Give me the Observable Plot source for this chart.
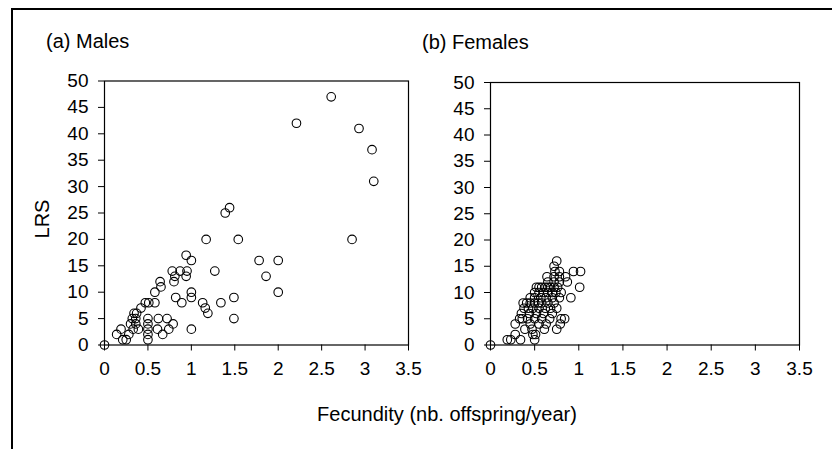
<!DOCTYPE html>
<html>
<head>
<meta charset="utf-8">
<script src="https://cdn.jsdelivr.net/npm/d3@7"></script>
<script src="https://cdn.jsdelivr.net/npm/@observablehq/plot@0.6"></script>
<style>
  html, body { margin: 0; padding: 0; background: white; }
  #wrap { position: relative; width: 832px; height: 449px; overflow: hidden; background: white;
          font-family: "Liberation Sans", Arial, sans-serif; color: black; }
  #border { position: absolute; left: 11px; top: 8px; width: 900px; height: 600px; border: 2px solid black; box-sizing: border-box; }
  .t { position: absolute; font-size: 20px; line-height: 20px; white-space: nowrap; }
  .panel { position: absolute; top: 0; }
</style>
</head>
<body>
<div id="wrap">
  <div id="border"></div>
  <div class="t" style="left:46px; top:31px;">(a) Males</div>
  <div class="t" style="left:422px; top:32px;">(b) Females</div>
  <div class="t" style="left:42px; top:219px; transform: translate(-50%,-50%) rotate(-90deg);">LRS</div>
  <div class="t" style="left:447px; top:404px; transform: translateX(-50%);">Fecundity (nb. offspring/year)</div>
  <div id="left" class="panel" style="left:0px;"></div>
  <div id="right" class="panel" style="left:420px;"></div>
</div>
<script>
// Tick values
const xTicks = [0, 0.5, 1, 1.5, 2, 2.5, 3, 3.5];
const yTicks = [0, 5, 10, 15, 20, 25, 30, 35, 40, 45, 50];

// (a) Males: fecundity (nb. offspring/year) and LRS
const maleFecundity = [0, 0.14, 0.19, 0.21, 0.25, 0.28, 0.30, 0.32, 0.33, 0.34, 0.36, 0.37, 0.39, 0.36,
  0.42, 0.47, 0.51, 0.50, 0.50, 0.50, 0.50, 0.50, 0.58, 0.58, 0.61, 0.62, 0.64, 0.65, 0.67, 0.72,
  0.74, 0.79, 0.78, 0.80, 0.81, 0.82, 0.89, 0.87, 0.94, 0.95, 0.94, 1.00, 1.00, 1.00, 1.00, 1.17,
  1.13, 1.16, 1.19, 1.27, 1.34, 1.39, 1.44, 1.49, 1.49, 1.54, 1.78, 1.86, 2.00, 2.00, 2.21, 2.61,
  2.85, 2.93, 3.08, 3.10];
const maleLRS = [0, 2, 3, 1, 1, 2, 4, 5, 3, 6, 5, 6, 3, 4,
  7, 8, 8, 5, 4, 3, 2, 1, 8, 10, 3, 5, 12, 11, 2, 5,
  3, 4, 14, 12, 13, 9, 8, 14, 17, 14, 13, 16, 10, 9, 3, 20,
  8, 7, 6, 14, 8, 25, 26, 9, 5, 20, 16, 13, 16, 10, 42, 47,
  20, 41, 37, 31];

// (b) Females
const femaleFecundity = [0,
  0.19, 0.23, 0.34, 0.50,
  0.28, 0.48, 0.51,
  0.39, 0.47, 0.61, 0.75,
  0.28, 0.45, 0.55, 0.63, 0.79,
  0.33, 0.36, 0.42, 0.50, 0.58, 0.67, 0.80, 0.84,
  0.35, 0.44, 0.52, 0.60, 0.70,
  0.38, 0.43, 0.48, 0.55, 0.62, 0.68, 0.75,
  0.37, 0.41, 0.45, 0.50, 0.54, 0.58, 0.65, 0.72,
  0.45, 0.50, 0.57, 0.63, 0.70, 0.78, 0.91,
  0.50, 0.55, 0.60, 0.65, 0.70, 0.74, 0.80,
  0.52, 0.55, 0.58, 0.62, 0.65, 0.68, 0.72, 0.76, 1.01,
  0.65, 0.72, 0.78, 0.87,
  0.64, 0.72, 0.78, 0.85,
  0.73, 0.78, 0.94, 1.02,
  0.72,
  0.75];
const femaleLRS = [0,
  1, 1, 1, 1,
  2, 2, 2,
  3, 3, 3, 3,
  4, 4, 4, 4, 4,
  5, 5, 5, 5, 5, 5, 5, 5,
  6, 6, 6, 6, 6,
  7, 7, 7, 7, 7, 7, 7,
  8, 8, 8, 8, 8, 8, 8, 8,
  9, 9, 9, 9, 9, 9, 9,
  10, 10, 10, 10, 10, 10, 10,
  11, 11, 11, 11, 11, 11, 11, 11, 11,
  12, 12, 12, 12,
  13, 13, 13, 13,
  14, 14, 14, 14,
  15,
  16];

const males = maleFecundity.map((x, i) => ({x, y: maleLRS[i]}));
const females = femaleFecundity.map((x, i) => ({x, y: femaleLRS[i]}));

function panel(data, opts) {
  return Plot.plot({
    width: opts.width,
    height: 449,
    marginLeft: opts.marginLeft,
    marginRight: opts.marginRight,
    marginTop: opts.marginTop,
    marginBottom: 104.5,
    style: {background: "transparent", fontFamily: "'Liberation Sans', Arial, sans-serif", fontSize: "19px", color: "black", overflow: "visible"},
    x: {domain: [0, 3.5], ticks: xTicks, tickFormat: d => String(d), tickSize: 6, tickPadding: 10, label: null},
    y: {domain: [0, 50], ticks: yTicks, tickFormat: d => String(d), tickSize: 6, tickPadding: 10, label: null},
    marks: [
      Plot.frame({stroke: "black", strokeWidth: 1.2}),
      Plot.dot(data, {x: "x", y: "y", r: 4.3, stroke: "black", strokeWidth: 1.1, fill: "none"})
    ]
  });
}

document.getElementById("left").appendChild(panel(males, {width: 420, marginLeft: 104, marginRight: 12, marginTop: 80.5}));
document.getElementById("right").appendChild(panel(females, {width: 412, marginLeft: 70, marginRight: 33, marginTop: 82}));
</script>
</body>
</html>
